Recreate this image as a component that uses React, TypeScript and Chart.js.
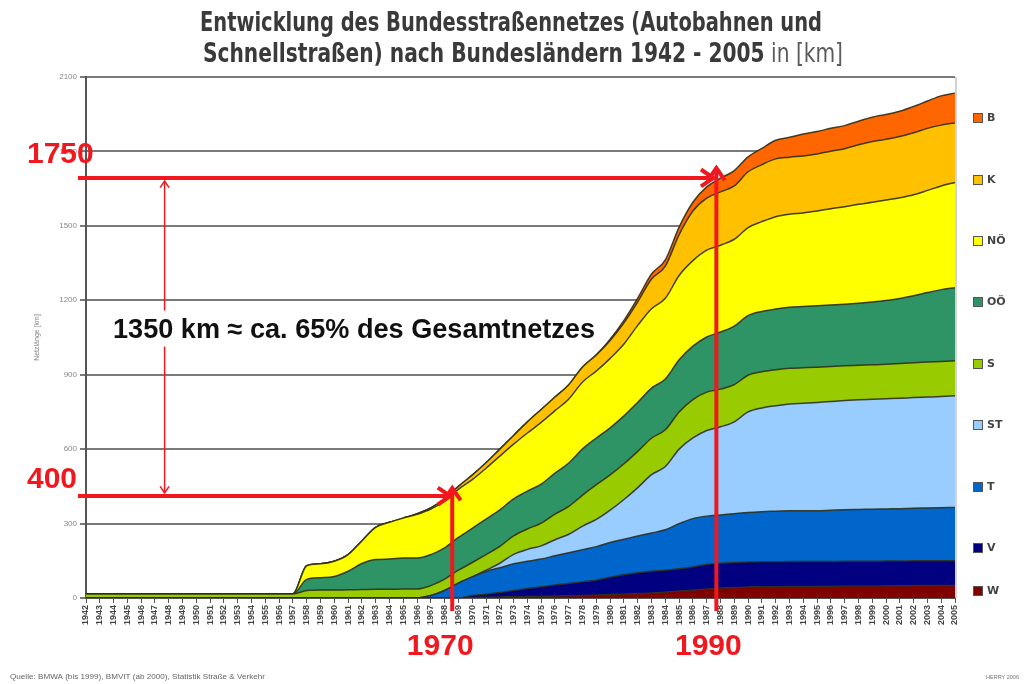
import React, { useEffect, useRef } from "react";
import { Chart, registerables } from "chart.js";

Chart.register(...registerables);

const years = [
  "1942", "1943", "1944", "1945", "1946", "1947", "1948", "1949", "1950", "1951",
  "1952", "1953", "1954", "1955", "1956", "1957", "1958", "1959", "1960", "1961",
  "1962", "1963", "1964", "1965", "1966", "1967", "1968", "1969", "1970", "1971",
  "1972", "1973", "1974", "1975", "1976", "1977", "1978", "1979", "1980", "1981",
  "1982", "1983", "1984", "1985", "1986", "1987", "1988", "1989", "1990", "1991",
  "1992", "1993", "1994", "1995", "1996", "1997", "1998", "1999", "2000", "2001",
  "2002", "2003", "2004", "2005",
];

// km per Bundesland, 1942..2005 (stack order bottom -> top)
const wien = [
  0, 0, 0, 0, 0, 0, 0, 0, 0, 0,
  0, 0, 0, 0, 0, 0, 0, 0, 0, 0,
  0, 0, 0, 0, 0, 0, 0, 0,
  2, 3, 4, 5, 6, 7, 8, 9, 10, 12,
  14, 16, 18, 20, 24, 28, 32, 36, 40, 42,
  44, 45, 45, 46, 46, 47, 47, 48, 48, 48,
  49, 49, 50, 50, 50, 50,
];
const vorarlberg = [
  0, 0, 0, 0, 0, 0, 0, 0, 0, 0,
  0, 0, 0, 0, 0, 0, 0, 0, 0, 0,
  0, 0, 0, 0, 0, 0, 0, 0,
  8, 12, 18, 25, 32, 38, 44, 49, 55, 60,
  70, 78, 84, 88, 88, 90, 93, 99, 100, 101,
  101, 101, 101, 101, 101, 100, 100, 100, 100, 100,
  100, 100, 100, 100, 100, 100,
];
const tirol = [
  0, 0, 0, 0, 0, 0, 0, 0, 0, 0,
  0, 0, 0, 0, 0, 0, 0, 0, 0, 0,
  0, 0, 0, 0, 0, 10, 30, 60,
  75, 92, 100, 108, 110, 112, 118, 124, 130, 135,
  140, 143, 148, 154, 163, 182, 195, 195, 195, 197,
  200, 202, 204, 205, 205, 205, 207, 208, 209, 210,
  210, 211, 212, 213, 214, 215,
];
const steiermark = [
  0, 0, 0, 0, 0, 0, 0, 0, 0, 0,
  0, 0, 0, 0, 0, 0, 0, 0, 0, 0,
  0, 0, 0, 0, 0, 0, 0, 0,
  0, 5, 18, 38, 48, 53, 65, 75, 95, 110,
  130, 160, 195, 235, 255, 300, 325, 345, 355, 370,
  405, 418, 425, 430, 433, 436, 438, 440, 442, 443,
  444, 445, 446, 447, 448, 450,
];
const salzburg = [
  16, 16, 16, 16, 16, 16, 16, 16, 16, 16,
  16, 16, 16, 16, 16, 16, 30, 32, 32, 33,
  34, 35, 35, 36, 36, 40, 46, 52,
  58, 63, 68, 74, 82, 92, 103, 112, 125, 140,
  142, 144, 146, 147, 148, 150, 155, 155, 152, 150,
  148, 146, 145, 144, 143, 142, 141, 140, 139, 139,
  139, 140, 140, 141, 141, 141,
];
const oberoesterreich = [
  0, 0, 0, 0, 0, 0, 0, 0, 0, 0,
  0, 0, 0, 0, 0, 0, 45, 50, 55, 75,
  105, 120, 122, 125, 125, 125, 126, 132,
  138, 143, 147, 150, 153, 157, 165, 175, 186, 188,
  190, 193, 198, 202, 205, 210, 215, 222, 230, 236,
  240, 243, 245, 246, 247, 248, 248, 248, 250, 253,
  257, 262, 270, 280, 290, 295,
];
const niederoesterreich = [
  0, 0, 0, 0, 0, 0, 0, 0, 0, 0,
  0, 0, 0, 0, 0, 0, 55, 56, 61, 67,
  91, 130, 148, 161, 176, 183, 190, 194,
  196, 205, 217, 220, 234, 249, 252, 258, 270, 270,
  280, 290, 310, 320, 325, 340, 345, 350, 350, 350,
  355, 362, 372, 375, 377, 382, 388, 393, 399, 402,
  405, 406, 407, 412, 418, 424,
];
const kaernten = [
  0, 0, 0, 0, 0, 0, 0, 0, 0, 0,
  0, 0, 0, 0, 0, 0, 0, 0, 0, 0,
  0, 0, 0, 0, 3, 5, 8, 12,
  18, 22, 28, 35, 45, 52, 55, 58, 60, 65,
  72, 85, 95, 120, 130, 165, 200, 210, 215, 215,
  225, 230, 233, 230, 230, 230, 232, 234, 240, 245,
  245, 247, 250, 250, 245, 240,
];
const burgenland = [
  0, 0, 0, 0, 0, 0, 0, 0, 0, 0,
  0, 0, 0, 0, 0, 0, 0, 0, 0, 0,
  0, 0, 0, 0, 0, 0, 0, 0,
  0, 0, 0, 0, 0, 0, 0, 0, 0, 0,
  5, 10, 15, 20, 25, 30, 35, 45, 55, 62,
  60, 65, 75, 80, 88, 90, 92, 93, 95, 98,
  100, 102, 106, 110, 118, 120,
];

const seriesLabels = ["W", "V", "T", "ST", "S", "OÖ", "NÖ", "K", "B"];
const seriesValues = [wien, vorarlberg, tirol, steiermark, salzburg, oberoesterreich, niederoesterreich, kaernten, burgenland];
const seriesColors = ["#800000", "#000080", "#0066cc", "#99ccff", "#99cc00", "#2e9466", "#ffff00", "#ffc000", "#ff6600"];

const yTicks = { min: 0, max: 2100, step: 300 };

const titleLine1 = "Entwicklung des Bundesstraßennetzes (Autobahnen und";
const titleLine2Bold = "Schnellstraßen) nach Bundesländern 1942 - 2005";
const titleLine2Normal = " in [km]";
const yTitle = "Netzlänge [km]";
const sourceNote = "Quelle: BMWA (bis 1999), BMVIT (ab 2000), Statistik Straße & Verkehr";
const authorNote = "HERRY 2006";

// annotation (km value, category position)
const markLow = { km: 411, pos: 26.55, label: "400", year: "1970" };
const markHigh = { km: 1693, pos: 45.7, label: "1750", year: "1990" };
const spanPos = 5.7;
const spanText = "1350 km ≈ ca. 65% des Gesamtnetzes";
const spanTextKm = 1090;

const RED = "rgb(240,24,30)";

function fitText(ctx: CanvasRenderingContext2D, text: string, x: number, y: number, width: number, font: string, color: string) {
  ctx.save();
  ctx.font = font;
  ctx.fillStyle = color;
  ctx.textAlign = "left";
  ctx.textBaseline = "alphabetic";
  const w = ctx.measureText(text).width;
  ctx.translate(x, y);
  ctx.scale(width / w, 1);
  ctx.fillText(text, 0, 0);
  ctx.restore();
}

function arrow(ctx: CanvasRenderingContext2D, x1: number, y1: number, x2: number, y2: number, w: number, head: number, both: boolean) {
  ctx.lineWidth = w;
  ctx.lineCap = "butt";
  ctx.lineJoin = "miter";
  ctx.beginPath();
  ctx.moveTo(x1, y1);
  ctx.lineTo(x2, y2);
  ctx.stroke();
  const drawHead = (tx: number, ty: number, fx: number, fy: number) => {
    const a = Math.atan2(ty - fy, tx - fx);
    ctx.beginPath();
    ctx.moveTo(tx - head * Math.cos(a - 0.6), ty - head * Math.sin(a - 0.6));
    ctx.lineTo(tx, ty);
    ctx.lineTo(tx - head * Math.cos(a + 0.6), ty - head * Math.sin(a + 0.6));
    ctx.stroke();
  };
  drawHead(x2, y2, x1, y1);
  if (both) drawHead(x1, y1, x2, y2);
}

const overlayPlugin = {
  id: "overlay",
  afterDraw(chart: any) {
    const ctx: CanvasRenderingContext2D = chart.ctx;
    const { left, right, top, bottom } = chart.chartArea;
    const xs = chart.scales.x;
    const ys = chart.scales.y;
    ctx.save();

    // plot frame right side
    ctx.strokeStyle = "#c4c4c4";
    ctx.lineWidth = 1.5;
    ctx.beginPath();
    ctx.moveTo(right + 1, top);
    ctx.lineTo(right + 1, bottom);
    ctx.stroke();

    // title
    fitText(ctx, titleLine1, 200, 31, 622, "bold 26px 'DejaVu Sans Condensed', 'DejaVu Sans', sans-serif", "#3a3a3a");
    {
      const fb = "bold 26px 'DejaVu Sans Condensed', 'DejaVu Sans', sans-serif";
      const fn = "26px 'DejaVu Sans Condensed', 'DejaVu Sans', sans-serif";
      ctx.save();
      ctx.font = fb;
      const w1 = ctx.measureText(titleLine2Bold).width;
      ctx.font = fn;
      const w2 = ctx.measureText(titleLine2Normal).width;
      ctx.translate(203, 62);
      ctx.scale(640 / (w1 + w2), 1);
      ctx.textBaseline = "alphabetic";
      ctx.font = fb;
      ctx.fillStyle = "#3a3a3a";
      ctx.fillText(titleLine2Bold, 0, 0);
      ctx.font = fn;
      ctx.fillStyle = "#5a5a5a";
      ctx.fillText(titleLine2Normal, w1, 0);
      ctx.restore();
    }

    // y axis title
    ctx.save();
    ctx.translate(37, (top + bottom) / 2);
    ctx.rotate(-Math.PI / 2);
    ctx.font = "7px 'Liberation Sans', Arial, sans-serif";
    ctx.fillStyle = "#888";
    ctx.textAlign = "center";
    ctx.textBaseline = "middle";
    ctx.fillText(yTitle, 0, 0);
    ctx.restore();

    // legend
    const legendY = [118, 180, 241, 302, 364, 425, 487, 548, 591];
    const n = chart.data.datasets.length;
    for (let i = 0; i < n; i++) {
      const ds = chart.data.datasets[n - 1 - i];
      const y = legendY[i];
      ctx.fillStyle = ds.backgroundColor;
      ctx.fillRect(973, y - 5, 10, 10);
      ctx.strokeStyle = "#555";
      ctx.lineWidth = 1;
      ctx.strokeRect(973.5, y - 4.5, 9, 9);
      ctx.font = "bold 11px 'DejaVu Sans', sans-serif";
      ctx.fillStyle = "#444";
      ctx.textAlign = "left";
      ctx.textBaseline = "middle";
      ctx.fillText(ds.label, 987, y + 0.5);
    }

    // footers
    fitText(ctx, sourceNote, 10, 679, 255, "7px 'Liberation Sans', Arial, sans-serif", "#666");
    fitText(ctx, authorNote, 986, 679, 33, "6px 'Liberation Sans', Arial, sans-serif", "#777");

    // annotations
    const yHigh = ys.getPixelForValue(markHigh.km);
    const yLow = ys.getPixelForValue(markLow.km);
    const xHigh = xs.getPixelForValue(markHigh.pos);
    const xLow = xs.getPixelForValue(markLow.pos);
    const xSpan = xs.getPixelForValue(spanPos);

    ctx.strokeStyle = RED;
    arrow(ctx, xSpan, yHigh + 3, xSpan, yLow - 3, 1.5, 8, true);

    // text with white box
    const yText = ys.getPixelForValue(spanTextKm);
    ctx.fillStyle = "#fff";
    ctx.fillRect(left + 22, yText - 17, 492, 36);
    fitText(ctx, spanText, left + 27, yText + 10, 482, "bold 27px 'Liberation Sans', Arial, sans-serif", "#111");

    ctx.strokeStyle = RED;
    arrow(ctx, left - 8, yHigh, xHigh - 3, yHigh, 4, 15, false);
    arrow(ctx, xHigh, bottom + 13, xHigh, yHigh - 10, 4, 15, false);
    arrow(ctx, left - 8, yLow, xLow - 2, yLow, 4, 15, false);
    arrow(ctx, xLow, bottom + 13, xLow, yLow - 8, 4, 15, false);

    ctx.font = "bold 30px 'Liberation Sans', Arial, sans-serif";
    ctx.fillStyle = RED;
    ctx.textBaseline = "alphabetic";
    ctx.textAlign = "left";
    ctx.fillText(markHigh.label, 27, yHigh - 15);
    ctx.fillText(markLow.label, 27, yLow - 8);
    ctx.textAlign = "center";
    ctx.fillText(markLow.year, xLow - 12, bottom + 57);
    ctx.fillText(markHigh.year, xHigh - 8, bottom + 57);

    ctx.restore();
  },
};

export default function App() {
  const ref = useRef<HTMLCanvasElement>(null);

  useEffect(() => {
    const datasets = seriesLabels.map((label, i) => ({
      label,
      data: seriesValues[i],
      backgroundColor: seriesColors[i],
      borderColor: "rgba(45,45,25,0.9)",
      borderWidth: 1.5,
      fill: i === 0 ? "origin" : "-1",
      pointRadius: 0,
      cubicInterpolationMode: "monotone" as const,
    }));

    const chart = new Chart(ref.current as HTMLCanvasElement, {
      type: "line",
      data: { labels: years, datasets },
      options: {
        responsive: false,
        animation: false,
        devicePixelRatio: 1,
        layout: { padding: { left: 0, right: 74, top: 77, bottom: 0 } },
        plugins: {
          legend: { display: false },
          tooltip: { enabled: false },
          title: { display: false },
        },
        scales: {
          x: {
            type: "category",
            offset: false,
            grid: { drawOnChartArea: false, drawTicks: true, tickLength: 5, color: "#555", lineWidth: 1 },
            border: { display: true, color: "#555", width: 2 },
            ticks: {
              autoSkip: false,
              maxRotation: 90,
              minRotation: 90,
              padding: 2,
              color: "#444",
              font: { size: 9, weight: "bold", family: "'Liberation Sans', Arial, sans-serif" },
            },
            afterFit: (s: any) => {
              s.height = 86;
            },
          },
          y: {
            stacked: true,
            min: yTicks.min,
            max: yTicks.max,
            ticks: {
              stepSize: yTicks.step,
              padding: 3,
              color: "#888",
              font: { size: 8, family: "'Liberation Sans', Arial, sans-serif" },
              callback: (v: any) => String(v),
            },
            grid: { color: "#7a7a7a", lineWidth: 2, tickLength: 6, drawTicks: true },
            border: { display: true, color: "#555", width: 2 },
            afterFit: (s: any) => {
              s.width = 86;
            },
          },
        },
      },
      plugins: [overlayPlugin],
    } as any);

    return () => chart.destroy();
  }, []);

  return (
    <div style={{ position: "absolute", left: 0, top: 0, width: 1029, height: 684, background: "#fff" }}>
      <canvas ref={ref} width={1029} height={684} style={{ display: "block", width: 1029, height: 684 }} />
    </div>
  );
}
